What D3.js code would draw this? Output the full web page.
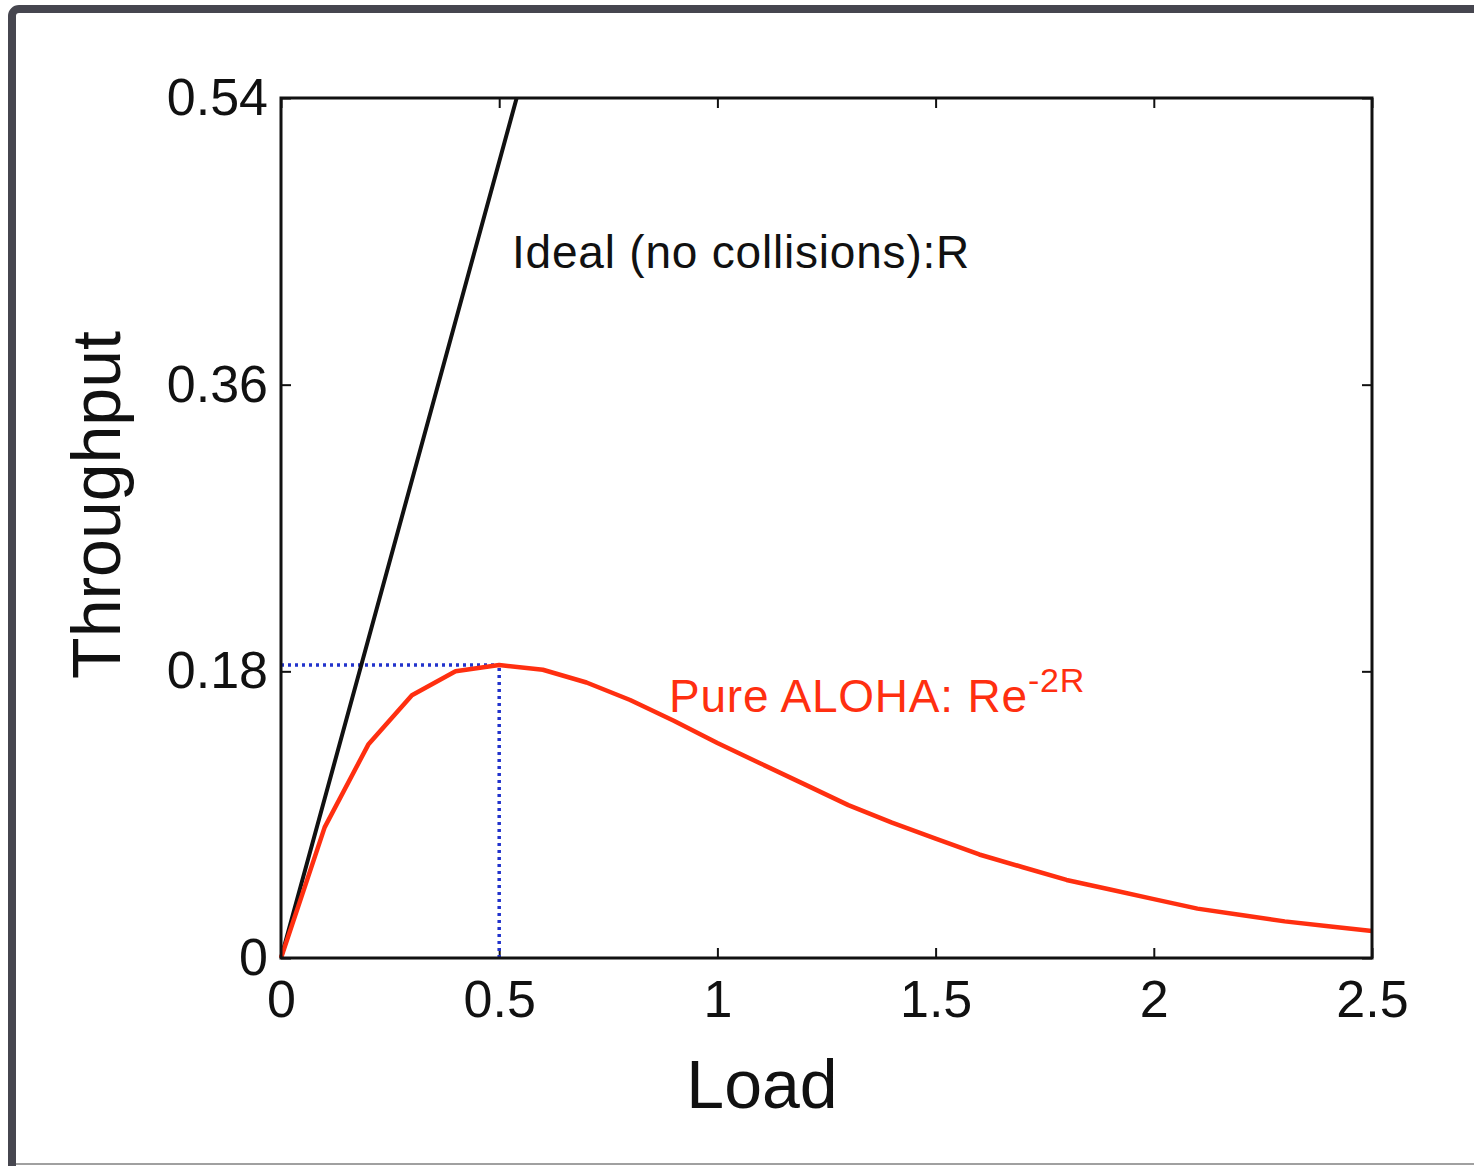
<!DOCTYPE html>
<html>
<head>
    <meta charset="UTF-8">
    <script src="https://d3js.org/d3.v7.min.js"></script>
    <style>
        body { margin: 0; background: white; }
        svg { display: block; font-family: "Liberation Sans", Arial, sans-serif; }
    </style>
</head>
<body>
    <div id="chart"></div>
    <script>
        // data
        let loads = [0, 0.1, 0.2, 0.3, 0.4, 0.5, 0.6, 0.7, 0.8, 0.9, 1.0, 1.1, 1.2,
            1.3, 1.4, 1.5, 1.6, 1.7, 1.8, 1.9, 2.0, 2.1, 2.2, 2.3, 2.4, 2.5]
        let alohaThroughput = [0, 0.082, 0.134, 0.165, 0.180, 0.184, 0.181, 0.173, 0.162, 0.149, 0.135,
            0.122, 0.109, 0.096, 0.085, 0.075, 0.065, 0.057, 0.049, 0.043, 0.037, 0.031, 0.027,
            0.023, 0.020, 0.017]
        let idealLoads = [0, 0.1, 0.2, 0.3, 0.4, 0.5, 0.54]
        let idealThroughput = [0, 0.1, 0.2, 0.3, 0.4, 0.5, 0.54]
        let peakLoad = 0.5, peakThroughput = 0.184
        let xTicks = [0, 0.5, 1, 1.5, 2, 2.5]
        let yTicks = [0, 0.18, 0.36, 0.54]

        let width = 1474, height = 1166
        let margin = { left: 281, right: 102, top: 98, bottom: 208 }

        let svg = d3.select("#chart").append("svg")
            .attr("width", width)
            .attr("height", height)

        // screenshot frame
        svg.append("rect")
            .attr("x", 12).attr("y", 9)
            .attr("width", 1600).attr("height", 1300)
            .attr("rx", 7)
            .style("fill", "white")
            .style("stroke", "#46464f")
            .style("stroke-width", 8)
        svg.append("line")
            .attr("x1", 16).attr("x2", width)
            .attr("y1", 1164).attr("y2", 1164)
            .style("stroke", "#a0a0a0")
            .style("stroke-width", 2)

        let x = d3.scaleLinear().domain([0, 2.5]).range([margin.left, width - margin.right])
        let y = d3.scaleLinear().domain([0, 0.54]).range([height - margin.bottom, margin.top])

        let fmt = d => d === 0 ? "0" : String(d)

        let axes = svg.append("g")
        axes.append("g")
            .attr("transform", `translate(0,${y(0)})`)
            .call(d3.axisBottom(x).tickValues(xTicks).tickSize(-10).tickSizeOuter(0).tickPadding(22).tickFormat(fmt))
        axes.append("g")
            .attr("transform", `translate(${x(0)},0)`)
            .call(d3.axisLeft(y).tickValues(yTicks).tickSize(-10).tickSizeOuter(0).tickPadding(13).tickFormat(fmt))
        axes.append("g")
            .attr("transform", `translate(0,${y(0.54)})`)
            .call(d3.axisTop(x).tickValues(xTicks).tickSize(-10).tickSizeOuter(0).tickFormat(""))
        axes.append("g")
            .attr("transform", `translate(${x(2.5)},0)`)
            .call(d3.axisRight(y).tickValues(yTicks).tickSize(-10).tickSizeOuter(0).tickFormat(""))

        axes.selectAll(".domain").remove()
        axes.selectAll(".tick line").style("stroke", "#111").style("stroke-width", 2)
        axes.selectAll(".tick text")
            .style("font-size", "52px")
            .style("font-family", "Liberation Sans, Arial, sans-serif")
            .style("fill", "#111")

        // blue dotted guides at the peak
        let guides = [
            [[0, peakThroughput], [peakLoad, peakThroughput]],
            [[peakLoad, 0], [peakLoad, peakThroughput]]
        ]
        svg.selectAll(".guide").data(guides).enter().append("path")
            .attr("class", "guide")
            .attr("d", d3.line().x(d => x(d[0])).y(d => y(d[1])))
            .style("fill", "none")
            .style("stroke", "#2233cc")
            .style("stroke-width", 3.5)
            .style("stroke-dasharray", "3,4")

        let line = d3.line().x(d => x(d[0])).y(d => y(d[1]))

        svg.append("path")
            .datum(idealLoads.map((l, i) => [l, idealThroughput[i]]))
            .attr("d", line)
            .style("fill", "none")
            .style("stroke", "#111")
            .style("stroke-width", 4)

        svg.append("path")
            .datum(loads.map((l, i) => [l, alohaThroughput[i]]))
            .attr("d", line)
            .style("fill", "none")
            .style("stroke", "#ff2f10")
            .style("stroke-width", 4.5)
            .style("stroke-linejoin", "round")

        // plot box
        svg.append("rect")
            .attr("x", x(0)).attr("y", y(0.54))
            .attr("width", x(2.5) - x(0)).attr("height", y(0) - y(0.54))
            .style("fill", "none")
            .style("stroke", "#111")
            .style("stroke-width", 3)

        // curve labels
        svg.append("text")
            .attr("x", 512).attr("y", 268)
            .text("Ideal (no collisions):R")
            .style("font-size", "46px")
            .style("letter-spacing", "0.8px")
            .style("fill", "#111")

        let aloha = svg.append("text")
            .attr("x", 669).attr("y", 712)
            .style("font-size", "46px")
            .style("letter-spacing", "0.8px")
            .style("fill", "#ff2f10")
        aloha.append("tspan").text("Pure ALOHA: Re")
        aloha.append("tspan").attr("dy", -20).style("font-size", "34px").text("-2R")

        // axis titles
        svg.append("text")
            .attr("x", 762).attr("y", 1108)
            .text("Load")
            .style("font-size", "68px")
            .style("text-anchor", "middle")
            .style("fill", "#111")

        svg.append("text")
            .attr("transform", "translate(120,505) rotate(-90)")
            .text("Throughput")
            .style("font-size", "68px")
            .style("text-anchor", "middle")
            .style("fill", "#111")
    </script>
</body>
</html>
